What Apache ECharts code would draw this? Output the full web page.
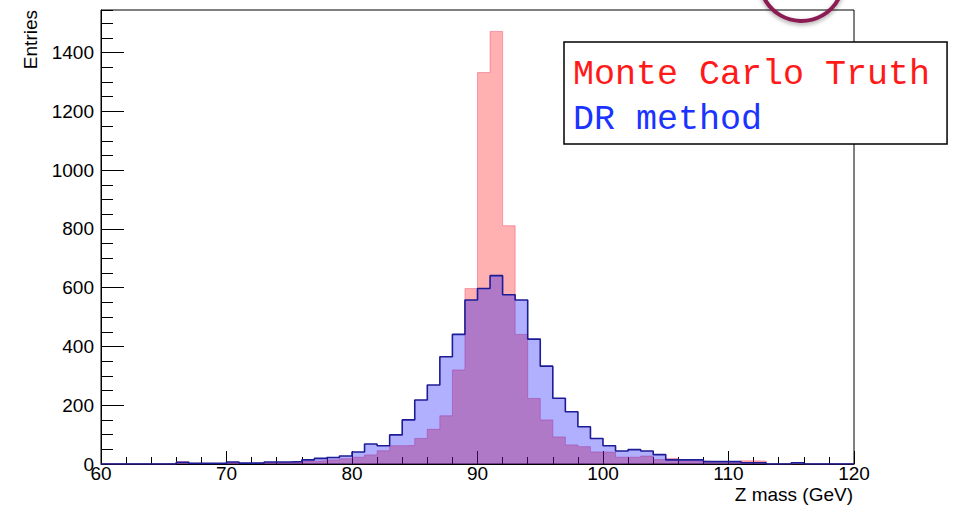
<!DOCTYPE html>
<html>
<head>
<meta charset="utf-8">
<script src="https://cdn.jsdelivr.net/npm/echarts@6/dist/echarts.min.js"></script>
<style>
  html, body { margin: 0; padding: 0; background: #fff; }
  #chart { width: 957px; height: 505px; }
</style>
</head>
<body>
<div id="chart"></div>
<script>
// Histogram range: 60 bins of 1 GeV from 60 to 120
const xMin = 60;
const xMax = 120;
const nBins = 60;

// Monte Carlo Truth entries per bin (bins 60-61 ... 119-120)
const mcTruth = [
  0, 0, 0, 0, 0, 0, 8, 3, 2, 2,
  6, 3, 4, 5, 5, 6, 9, 11, 14, 18,
  23, 31, 45, 62, 63, 87, 118, 164, 320, 597,
  1332, 1472, 811, 441, 223, 150, 92, 65, 59, 41,
  40, 23, 23, 27, 15, 19, 10, 10, 8, 8,
  6, 11, 10, 0, 0, 0, 0, 0, 0, 0
];

// DR method entries per bin
const drMethod = [
  0, 0, 0, 0, 0, 0, 6, 2, 2, 2,
  7, 3, 3, 7, 7, 8, 14, 19, 22, 27,
  41, 68, 62, 99, 150, 218, 269, 365, 441, 558,
  597, 641, 576, 558, 425, 333, 224, 178, 127, 87,
  62, 44, 49, 44, 32, 14, 14, 14, 8, 8,
  8, 4, 4, 0, 0, 4, 0, 0, 0, 0
];

const xTicks = [60, 70, 80, 90, 100, 110, 120];
const yTicks = [0, 200, 400, 600, 800, 1000, 1200, 1400];
const yMax = 1545;

const seriesNames = ['Monte Carlo Truth', 'DR method'];

function toSteps(values) {
  const w = (xMax - xMin) / nBins;
  const pts = values.map((v, i) => [xMin + i * w, v]);
  pts.push([xMax, values[values.length - 1]]);
  return pts;
}

const chart = echarts.init(document.getElementById('chart'), null, { renderer: 'svg' });

const axisFont = { fontFamily: 'Liberation Sans, Arial, sans-serif', fontSize: 19, color: '#000' };

chart.setOption({
  animation: false,
  backgroundColor: '#fff',
  grid: {
    left: 101, right: 103, top: 10, bottom: 41,
    show: true, borderColor: '#000', borderWidth: 1, backgroundColor: 'transparent'
  },
  xAxis: {
    type: 'value',
    min: xMin, max: xMax, interval: 10,
    axisLine: { show: true, lineStyle: { color: '#000', width: 1 } },
    axisTick: { show: true, inside: true, length: 13, lineStyle: { color: '#000' } },
    minorTick: { show: true, splitNumber: 5, length: 7, lineStyle: { color: '#000' } },
    splitLine: { show: false },
    axisLabel: Object.assign({ margin: 0, formatter: v => (xTicks.includes(v) ? String(v) : '') }, axisFont)
  },
  yAxis: [
    {
      type: 'value',
      min: 0, max: yMax, interval: 200,
      axisLine: { show: true, lineStyle: { color: '#000', width: 1 } },
      axisTick: { show: true, inside: true, length: 23, lineStyle: { color: '#000' } },
      splitLine: { show: false },
      axisLabel: Object.assign({
        margin: 7, showMaxLabel: false,
        formatter: v => (yTicks.includes(v) ? String(v) : '')
      }, axisFont)
    },
    {
      type: 'value',
      position: 'left',
      min: 0, max: yMax, interval: 50,
      axisLine: { show: false },
      axisTick: { show: true, inside: true, length: 12, lineStyle: { color: '#000' } },
      splitLine: { show: false },
      axisLabel: { show: false }
    }
  ],
  legend: {
    orient: 'vertical',
    left: 564, top: 42,
    padding: [15, 17, 7, 4],
    itemGap: 10,
    itemWidth: 0, itemHeight: 0,
    icon: 'rect',
    selectedMode: false,
    borderColor: '#000', borderWidth: 1.5,
    backgroundColor: '#fff',
    textStyle: { fontFamily: 'Liberation Mono, Courier New, monospace', fontSize: 35 },
    data: [
      { name: seriesNames[0], textStyle: { color: '#ff1a1a' } },
      { name: seriesNames[1], textStyle: { color: '#1a33ff' } }
    ]
  },
  graphic: [
    {
      type: 'text',
      x: 30, y: 10, rotation: Math.PI / 2,
      style: {
        text: 'Entries', fill: '#000',
        font: '19px "Liberation Sans", Arial, sans-serif',
        textAlign: 'right', textVerticalAlign: 'middle'
      }
    },
    {
      type: 'text',
      x: 853, y: 494,
      style: {
        text: 'Z mass (GeV)', fill: '#000',
        font: '19px "Liberation Sans", Arial, sans-serif',
        textAlign: 'right', textVerticalAlign: 'middle'
      }
    },
    {
      type: 'circle',
      shape: { cx: 801.5, cy: -21, r: 42 },
      style: {
        fill: 'none', stroke: '#8a1f52', lineWidth: 4,
        shadowBlur: 4, shadowColor: 'rgba(0,0,0,0.35)', shadowOffsetY: 2
      },
      z: 100
    }
  ],
  series: [
    {
      name: seriesNames[0],
      type: 'line',
      step: 'end',
      symbol: 'none',
      data: toSteps(mcTruth),
      lineStyle: { color: 'rgba(235,70,110,0.45)', width: 1 },
      itemStyle: { color: '#ff1a1a' },
      areaStyle: { color: 'rgb(255,0,0)', opacity: 0.31 },
      z: 2
    },
    {
      name: seriesNames[1],
      type: 'line',
      step: 'end',
      symbol: 'none',
      data: toSteps(drMethod),
      lineStyle: { color: '#1c1c96', width: 1.6 },
      itemStyle: { color: '#1a33ff' },
      areaStyle: { color: 'rgb(0,0,255)', opacity: 0.31 },
      z: 3
    }
  ]
});
</script>
</body>
</html>
